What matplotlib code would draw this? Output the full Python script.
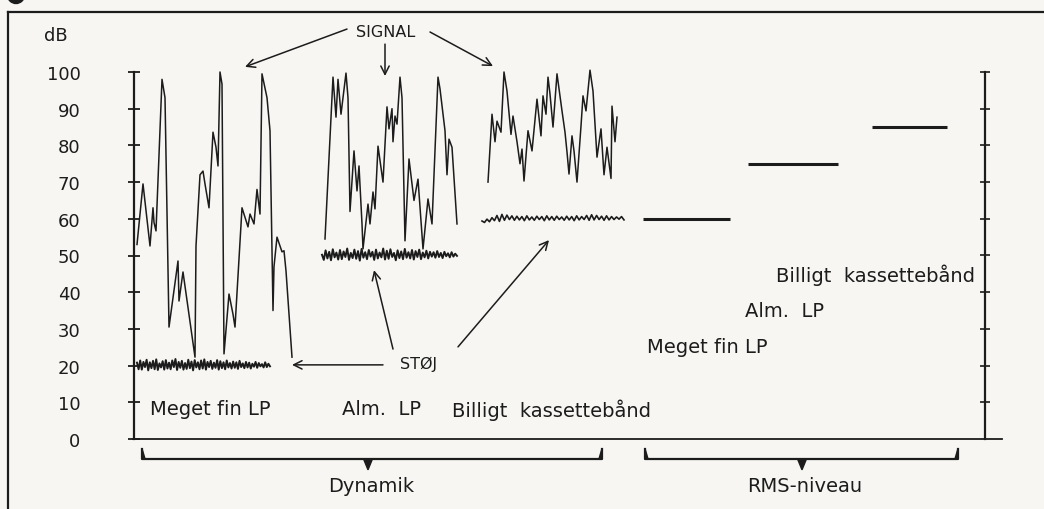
import numpy as np
import matplotlib
matplotlib.use("Agg")
import matplotlib.pyplot as plt
from matplotlib.lines import Line2D
from matplotlib.patches import Circle, Polygon

plt.rcParams['font.family'] = ['DejaVu Sans']

INK = '#1c1c1c'
PAPER = '#f7f6f3'

# ---- data -----------------------------------------------------------------
db_ticks = [0, 10, 20, 30, 40, 50, 60, 70, 80, 90, 100]

# Signal envelopes: horizontal position (arbitrary time units) and level in dB
fine_t = [3, 9, 16, 19, 20, 22, 28, 31, 35, 44, 45, 49, 61, 62, 66, 69, 71, 75,
          79, 82, 84, 86, 88, 90, 95, 99, 101, 108, 114, 116, 120, 123, 126,
          128, 133, 136, 139, 140, 143, 148, 150, 152, 158]
fine_db = [53, 69.5, 52.6, 63, 59, 56.7, 98, 93, 30.5, 48.5, 37.6, 45.5, 22.3,
           52.6, 72, 73, 69.5, 63, 83.6, 79.5, 74.4, 100, 96.7, 23.2, 39.5, 34,
           30.5, 63, 57.8, 61.3, 58.6, 68, 61.3, 99.5, 93, 84, 35, 47, 55, 51,
           51.3, 45.8, 22.3]

alm_t = [191, 199, 202, 204, 207, 212, 214, 216, 220, 223, 225, 228, 229, 234,
         236, 239, 241, 244, 249, 253, 255, 258, 259, 261, 263, 266, 268, 271,
         275, 280, 284, 289, 294, 298, 304, 306, 311, 313, 315, 318, 323]
alm_db = [54.5, 98.6, 87.7, 98, 88.5, 99.7, 93, 62, 78.5, 67.6, 74.4, 58.6,
          51.8, 64, 58.6, 67.3, 62.7, 79.8, 70, 90.5, 84.5, 90, 81, 88, 85.8,
          98.6, 93, 54, 76.3, 65, 70.8, 51.8, 65.4, 58.6, 98.6, 95.4, 84, 72,
          81.7, 79.5, 58.6]

kas_t = [354, 358, 361, 363, 367, 370, 373, 377, 379, 383, 386, 388, 390, 394,
         398, 403, 407, 409, 412, 414, 416, 419, 423, 428, 431, 433, 435, 438,
         440, 443, 447, 449, 452, 456, 459, 463, 467, 470, 473, 477, 478, 481,
         483]
kas_db = [70, 88.5, 81, 86.6, 83.6, 100, 94.8, 83, 88, 81, 75, 79, 70.3, 84,
          78.5, 92.6, 82.6, 93.5, 88.5, 98.6, 94, 85, 99.5, 89.4, 83.6, 78.2,
          72.2, 82.6, 78.5, 70, 85.3, 93.5, 89.4, 100.5, 94.8, 76.8, 84.5, 72,
          79.5, 71, 90.7, 81, 87.7]

# Noise floors (dB) and the time span each one covers
fine_noise_db = [20.8, 19.0, 21.4, 18.9, 21.0, 19.6, 21.6, 18.7, 20.9, 19.3,
                 21.3, 19.0, 21.7, 18.8, 20.6, 19.5, 21.2, 18.9, 21.5, 19.2,
                 20.8, 19.0, 21.4, 19.6, 21.8, 18.8, 21.0, 19.4, 21.3, 18.9,
                 20.7, 19.1, 21.6, 19.3, 21.1, 18.7, 21.5, 19.5, 20.9, 19.0,
                 21.4, 19.2, 21.7, 18.9, 21.0, 19.6, 21.3, 19.1, 20.8, 19.4,
                 21.5, 18.9, 21.2, 19.3, 20.9, 19.0, 21.4, 19.5, 20.7, 19.2,
                 21.1, 19.4, 20.9, 19.1, 21.3, 19.6, 20.6, 19.3, 21.0, 19.5,
                 20.8, 19.2, 20.5, 19.7, 21.0, 19.4, 20.7, 19.8, 20.4, 19.5,
                 20.9, 19.6, 20.5, 19.8]
alm_noise_db = [50.2, 48.8, 51.4, 49.2, 51.0, 48.7, 51.7, 49.5, 50.8, 48.9,
                51.5, 49.0, 51.1, 49.6, 51.9, 48.8, 50.7, 49.3, 51.6, 49.1,
                51.2, 48.6, 51.8, 49.4, 50.9, 49.0, 51.5, 49.7, 51.0, 48.8,
                51.6, 49.2, 50.8, 49.5, 51.9, 48.9, 51.3, 49.1, 51.7, 49.6,
                50.7, 48.7, 51.4, 49.3, 51.1, 49.0, 51.8, 49.4, 50.9, 49.2,
                51.5, 48.9, 51.2, 49.6, 51.6, 49.0, 50.8, 49.5, 51.3, 49.2,
                51.0, 49.7, 50.9, 49.4, 51.2, 49.6, 50.7, 49.3, 51.0, 49.8,
                50.6, 49.5, 50.9, 49.7, 50.5, 49.9]
kas_noise_db = [59.4, 59.0, 59.9, 59.2, 60.3, 59.5, 60.9, 59.3, 61.2, 59.6,
                61.0, 59.8, 60.8, 59.6, 60.7, 59.7, 60.6, 59.5, 60.8, 59.7,
                60.5, 59.6, 60.7, 59.8, 60.6, 59.5, 60.8, 59.7, 60.6, 59.6,
                60.7, 59.8, 60.5, 59.6, 60.7, 59.7, 60.6, 59.5, 60.8, 59.7,
                60.6, 59.8, 60.9, 59.6, 61.1, 59.7, 60.9, 59.8, 60.7, 59.6,
                60.8, 59.7, 60.6, 59.8, 60.5, 59.9, 60.6, 59.7]
fine_noise_span = (3, 136)
alm_noise_span = (188, 323)
kas_noise_span = (348, 490)

# RMS levels
rms_names = ['Meget fin LP', 'Alm.  LP', 'Billigt  kassettebånd']
rms_db = [60, 75, 85]
rms_spans = [(509, 596), (614, 704), (738, 813)]

# ---- figure -----------------------------------------------------------------
W, H = 1044, 510
fig = plt.figure(figsize=(W / 100, H / 100), dpi=100, facecolor=PAPER)
ax = fig.add_axes([133 / W, (H - 440) / H, (1002 - 133) / W, (440 - 73) / H])
ax.set_facecolor('none')
ax.set_xlim(-1, 868)
ax.set_ylim(0, 100)

for s in ['top', 'right']:
    ax.spines[s].set_visible(False)
ax.spines['left'].set_position(('data', 0))
ax.spines['left'].set_linewidth(1.6)
ax.spines['bottom'].set_linewidth(1.3)
for s in ['left', 'bottom']:
    ax.spines[s].set_color(INK)

ax.set_xticks([])
ax.set_yticks(db_ticks)
ax.set_yticklabels([str(v) for v in db_ticks])
ax.tick_params(axis='y', direction='inout', length=9, width=1.3, color=INK,
               labelsize=13, pad=34, labelcolor=INK)
ax.yaxis.get_major_ticks()[0].tick1line.set_visible(False)

# right-hand dB scale for the RMS panel
axr = ax.twinx()
axr.set_ylim(0, 100)
for s in ['top', 'left', 'bottom']:
    axr.spines[s].set_visible(False)
axr.spines['right'].set_position(('data', 851))
axr.spines['right'].set_linewidth(1.6)
axr.spines['right'].set_color(INK)
axr.set_yticks(db_ticks)
axr.tick_params(axis='y', direction='inout', length=7, width=1.2, color=INK,
                labelright=False)
axr.yaxis.get_major_ticks()[0].tick2line.set_visible(False)

ax.text(-66, 110, 'dB', ha='right', va='center', fontsize=13, color=INK,
        clip_on=False)

# signal envelopes
for t, db in [(fine_t, fine_db), (alm_t, alm_db), (kas_t, kas_db)]:
    ax.plot(t, db, color=INK, lw=1.1, solid_joinstyle='round', clip_on=False)

# noise floors
for vals, (t0, t1), w in [(fine_noise_db, fine_noise_span, 1.4),
                          (alm_noise_db, alm_noise_span, 1.4),
                          (kas_noise_db, kas_noise_span, 1.2)]:
    ax.plot(np.linspace(t0, t1, len(vals)), vals, color=INK, lw=w,
            clip_on=False)

# RMS levels
for lvl, (t0, t1) in zip(rms_db, rms_spans):
    ax.plot([t0, t1], [lvl, lvl], color=INK, lw=2.2, solid_capstyle='butt')

# media labels
label_kw = dict(fontsize=14, color=INK, va='center')
ax.text(16, 8.2, 'Meget fin LP', ha='left', **label_kw)
ax.text(208, 8.2, 'Alm.  LP', ha='left', **label_kw)
ax.text(318, 8.2, 'Billigt  kassettebånd', ha='left', **label_kw)
ax.text(841, 45, rms_names[2], ha='right', **label_kw)
ax.text(611, 34.9, rms_names[1], ha='left', **label_kw)
ax.text(513, 25.1, rms_names[0], ha='left', **label_kw)

# hand-lettered annotations
ax.text(252, 110.9, 'SIGNAL', ha='center', va='center', fontsize=11.5,
        color=INK, clip_on=False)
ax.text(285, 20.7, 'STØJ', ha='center', va='center', fontsize=11.5,
        color=INK, clip_on=False)
arrow_kw = dict(arrowstyle='->', color=INK, lw=1.1, mutation_scale=15,
                shrinkA=0, shrinkB=0)
for tail, head in [((213, 111.7), (111, 101.4)),
                   ((251, 107.6), (251, 98.9)),
                   ((296, 110.9), (359, 101.6)),
                   ((249, 20.2), (158, 20.2)),
                   ((259, 24.5), (240, 46.0)),
                   ((324, 25.1), (415, 54.2))]:
    ax.annotate('', xy=head, xytext=tail, arrowprops=arrow_kw,
                annotation_clip=False)

# group brackets under the axis
def bracket(x0, x1, xm, name, y_line=-5.4, y_hook=-2.6):
    ax.plot([x0, x0, x1, x1], [y_hook, y_line, y_line, y_hook], color=INK,
            lw=1.6, clip_on=False, solid_joinstyle='round')
    for xe, d in [(x0, 1), (x1, -1)]:
        ax.add_patch(Polygon([(xe, y_hook), (xe + d * 3, y_line),
                              (xe, y_line)], closed=True, color=INK,
                             clip_on=False))
    ax.add_patch(Polygon([(xm - 4.5, y_line), (xm + 4.5, y_line),
                          (xm, y_line - 3.0)], closed=True, color=INK,
                         clip_on=False))
    ax.text(xm + 3, -12.6, name, ha='center', va='center', fontsize=14,
            color=INK, clip_on=False)

bracket(8, 468, 234, 'Dynamik')
bracket(511, 824, 668, 'RMS-niveau')

# page frame
fig.add_artist(Line2D([8 / W, 1], [1 - 13 / H] * 2, transform=fig.transFigure,
                      color=INK, lw=1.6))
fig.add_artist(Line2D([8 / W] * 2, [0, 1 - 13 / H], transform=fig.transFigure,
                      color=INK, lw=1.6))
fig.add_artist(Circle((0.16, H / 100 + 0.04), 0.085,
                      transform=fig.dpi_scale_trans, color=INK))

fig.savefig('out.png', dpi=100, facecolor=PAPER)
